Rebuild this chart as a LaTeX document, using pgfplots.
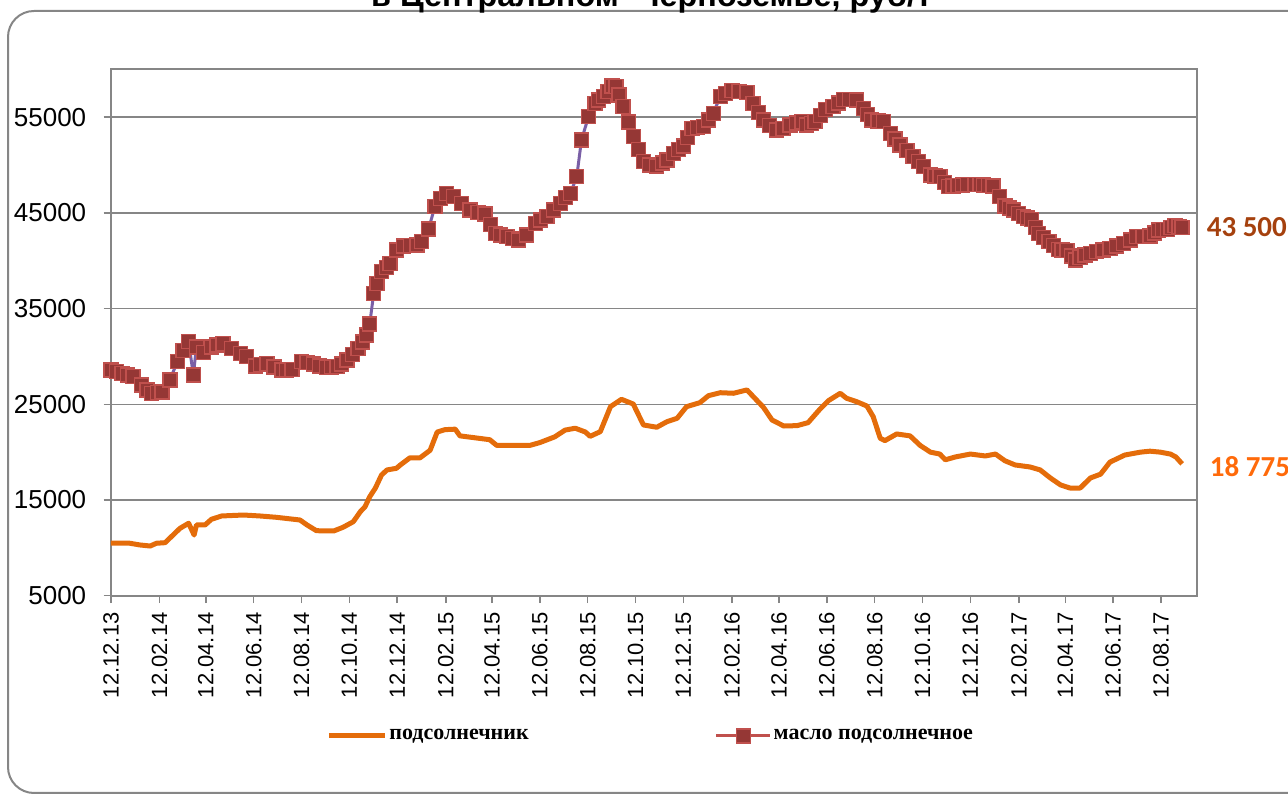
\documentclass[border=0pt]{standalone}
\usepackage{pgfplots}
\pgfplotsset{compat=1.18}
\usepackage{pgfplotstable}
\usepackage{fontspec}
\setmainfont{Liberation Sans}
\newfontfamily\legfont{Liberation Serif}
\newfontfamily\calfont{Carlito}
\definecolor{orangec}{HTML}{E46C0A}
\definecolor{purplec}{HTML}{7A5FA6}
\definecolor{oilfill}{HTML}{953735}
\definecolor{oildraw}{HTML}{C0504D}
\definecolor{axgray}{HTML}{868686}
\definecolor{lab43}{HTML}{A5410E}
\definecolor{lab18}{HTML}{FF6A0A}

\pgfplotstableread{
day val
0 28600
7 28450
14 28240
21 28050
28 27900
39 27020
46 26500
52 26150
59 26200
65 26300
75 27550
85 29500
92 30600
99 31540
105 28060
109 31000
118 30400
128 31000
135 31200
143 31380
154 30850
165 30330
173 29980
184 29000
191 29150
199 29290
208 28900
218 28590
224 28600
231 28660
243 29450
250 29350
258 29210
266 29000
275 28870
281 28880
288 28930
294 29200
301 29630
308 30200
315 30850
321 31500
326 32240
330 33400
335 36600
339 37650
345 38860
351 39300
356 39730
364 41130
373 41540
382 41600
390 41650
396 42000
405 43300
413 45650
420 46500
428 47050
437 46700
447 46000
458 45300
468 45050
477 44900
484 43800
490 42870
497 42700
505 42520
512 42350
520 42170
530 42700
541 43900
548 44250
556 44610
564 45300
573 46000
580 46600
586 47050
594 48800
600 52620
609 55060
617 56450
622 56800
628 57150
634 57700
639 58260
644 58190
648 57300
653 56100
660 54500
666 52970
673 51600
679 50350
687 50000
696 49900
703 50200
709 50530
717 51230
724 51600
730 51990
735 52900
741 53840
748 53900
756 54010
762 54700
768 55410
777 57150
784 57500
792 57770
801 57700
811 57600
819 56450
826 55500
832 54710
840 54100
849 53670
857 53800
866 54190
874 54400
881 54530
887 54190
893 54350
898 54530
905 55200
911 55830
921 56100
928 56500
934 56870
942 56850
951 56800
960 55930
965 55300
970 54710
978 54600
985 54530
994 53320
1000 52700
1006 52100
1015 51500
1023 50880
1030 50350
1036 49830
1045 48960
1051 48870
1057 48790
1063 48200
1068 47740
1074 47800
1080 47850
1086 47920
1092 47990
1102 47990
1108 47950
1113 47920
1119 47860
1125 47810
1133 46700
1140 45720
1146 45500
1151 45300
1157 44950
1164 44610
1169 44470
1174 44330
1179 43500
1183 42870
1189 42400
1196 41990
1202 41600
1208 41200
1213 41120
1219 41050
1225 40500
1230 40080
1236 40350
1242 40600
1249 40780
1257 40950
1265 41100
1274 41300
1282 41550
1291 41830
1300 42150
1308 42520
1316 42550
1325 42590
1331 42900
1336 43210
1341 43250
1347 43290
1352 43480
1357 43670
1362 43580
1366 43500
}\oil

\pgfplotstableread{
day val
0 10480
24 10480
37 10300
50 10190
58 10480
69 10540
88 12040
99 12570
106 11340
109 12390
120 12390
128 12980
141 13330
169 13430
190 13330
211 13190
241 12910
250 12390
262 11790
284 11760
296 12150
309 12730
318 13780
324 14300
330 15350
337 16220
345 17610
352 18140
364 18310
369 18660
381 19400
394 19400
407 20200
416 22100
426 22350
439 22400
445 21700
464 21500
483 21300
492 20700
509 20700
534 20700
547 21000
566 21600
579 22300
592 22500
605 22100
611 21650
624 22140
637 24750
651 25520
666 25030
679 22840
696 22600
709 23180
722 23540
734 24750
751 25170
762 25900
777 26210
794 26150
811 26500
832 24690
843 23360
858 22730
875 22770
889 23080
904 24480
915 25380
930 26150
938 25630
951 25270
964 24820
972 23710
981 21450
987 21200
1002 21900
1019 21700
1032 20700
1045 20000
1057 19800
1064 19200
1077 19500
1096 19800
1115 19600
1128 19800
1140 19100
1153 18660
1172 18450
1185 18140
1198 17300
1211 16570
1223 16250
1236 16250
1249 17300
1262 17700
1274 18960
1293 19700
1313 20000
1325 20100
1338 20000
1351 19800
1358 19500
1366 18775
}\sunf

\begin{document}
\begin{tikzpicture}
\path[use as bounding box] (0,0) rectangle (644pt,398pt);
\draw[color=axgray, line width=1pt, rounded corners=13pt] (4pt,1.5pt) rectangle (700pt,392.5pt);
\node[anchor=base, inner sep=0pt, font=\bfseries\fontsize{16.2}{19}\selectfont] at (325.75pt,394.5pt) {в Центральном\ \ Черноземье, руб/т};
\begin{axis}[
  at={(55.5pt,100.15pt)}, anchor=south west,
  scale only axis, width=543pt, height=263.2pt,
  xmin=0, xmax=1385, ymin=5000, ymax=60000,
  clip=false, scaled y ticks=false, scaled x ticks=false,
  axis line style={draw=axgray, line width=1pt},
  tick style={draw=axgray, line width=0.75pt},
  tick align=outside, major tick length=3.7pt,
  xtick pos=lower, ytick pos=left,
  ymajorgrids, major grid style={draw=axgray, line width=0.75pt},
  xtick={0,62,121,182,243,304,365,427,486,547,608,669,730,792,852,913,974,1035,1096,1158,1217,1278,1339},
  xticklabels={12.12.13,12.02.14,12.04.14,12.06.14,12.08.14,12.10.14,12.12.14,12.02.15,12.04.15,12.06.15,12.08.15,12.10.15,12.12.15,12.02.16,12.04.16,12.06.16,12.08.16,12.10.16,12.12.16,12.02.17,12.04.17,12.06.17,12.08.17},
  ytick={5000,15000,25000,35000,45000,55000},
  yticklabels={5000,15000,25000,35000,45000,55000},
  xticklabel style={font=\fontsize{11}{13}\selectfont, rotate=90, anchor=east, inner sep=0pt, xshift=-4.5pt},
  yticklabel style={font=\fontsize{13}{15}\selectfont, anchor=east, inner sep=0pt, xshift=-8.5pt},
  legend style={at={(0.198,-0.2665)}, anchor=west, draw=none, fill=none, inner sep=0pt,
    font=\legfont\bfseries\fontsize{11}{13}\selectfont,
    /tikz/every even column/.append style={column sep=92pt},
    nodes={inner sep=1pt}},
  legend columns=2, legend cell align=left,
]
\addplot[color=orangec, line width=2.5pt, line join=round, forget plot] table[x=day,y=val] {\sunf};
\addplot[only marks, mark=square*, mark size=3.5pt, mark options={fill=oilfill, draw=oildraw, line width=0.7pt}, forget plot] table[x=day,y=val] {\oil};
\addplot[color=purplec, line width=1.5pt, line join=round, forget plot] table[x=day,y=val] {\oil};
\addlegendimage{legend image code/.code={\draw[orangec, line width=2.5pt] (0pt,0pt) -- (28pt,0pt);}}
\addlegendentry{подсолнечник}
\addlegendimage{legend image code/.code={\draw[oildraw, line width=1.5pt] (0pt,0pt) -- (27pt,0pt); \draw[fill=oilfill, draw=oildraw, line width=0.7pt] (10pt,-3.5pt) rectangle (17pt,3.5pt);}}
\addlegendentry{масло подсолнечное}
\node[anchor=west, inner sep=0pt, text=lab43, font=\calfont\bfseries\fontsize{14.5}{17}\selectfont] at (axis cs:1397,43530) {43 500};
\node[anchor=west, inner sep=0pt, text=lab18, font=\calfont\bfseries\fontsize{14.5}{17}\selectfont] at (axis cs:1401,18450) {18 775};
\end{axis}
\end{tikzpicture}
\end{document}
